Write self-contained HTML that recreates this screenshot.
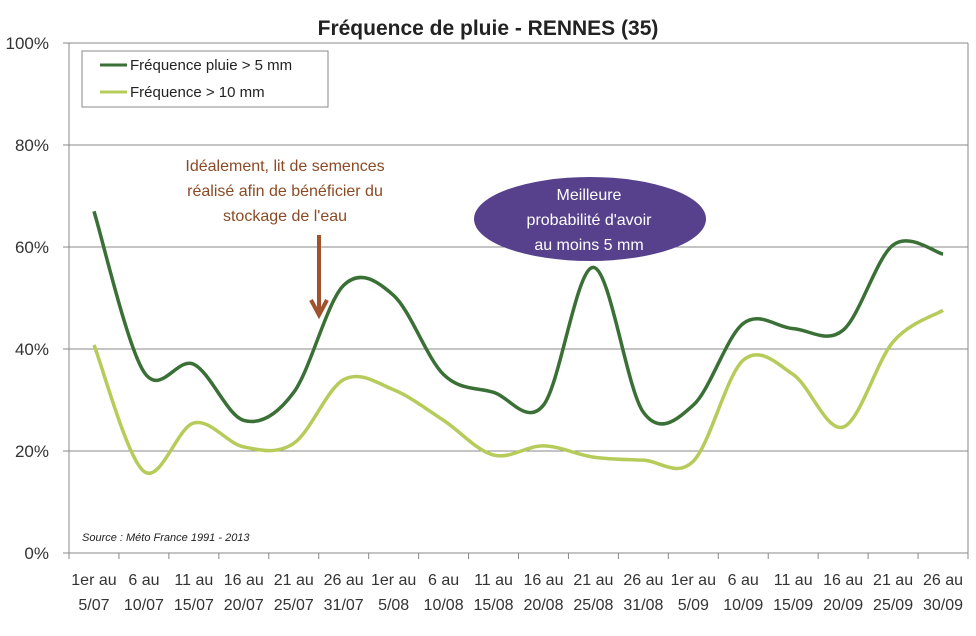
<!DOCTYPE html>
<html><head><meta charset="utf-8"><style>
body{margin:0;background:#fff;}
svg{display:block;font-family:"Liberation Sans",sans-serif;}
</style></head><body>
<svg id="chart" width="976" height="636" viewBox="0 0 976 636">
<rect x="0" y="0" width="976" height="636" fill="#fff"/>
<text x="488" y="35" text-anchor="middle" font-size="21" font-weight="bold" fill="#222">Fréquence de pluie - RENNES (35)</text>
<g id="grid"></g>
<g id="yaxis"></g>
<g id="xaxis"></g>
<g id="series"></g>
<g>
<rect x="82" y="51" width="246" height="56" fill="#fff" stroke="#888" stroke-width="1"/>
<line x1="100" y1="65" x2="127" y2="65" stroke="#3a7036" stroke-width="3"/>
<text x="130" y="70" font-size="15" fill="#222">Fréquence pluie &gt; 5 mm</text>
<line x1="100" y1="92" x2="127" y2="92" stroke="#b5cc5a" stroke-width="3"/>
<text x="130" y="97" font-size="15" fill="#222">Fréquence &gt; 10 mm</text>
</g>
<g fill="#8b4a24" font-size="16" text-anchor="middle">
<text x="285" y="171">Idéalement, lit de semences</text>
<text x="285" y="196">réalisé afin de bénéficier du</text>
<text x="285" y="221">stockage de l'eau</text>
<line x1="319" y1="235" x2="319" y2="312" stroke="#a0522d" stroke-width="4"/>
<path d="M311 300 L319 315 L327 300" fill="none" stroke="#a0522d" stroke-width="4"/>
</g>
<g>
<ellipse cx="590" cy="219" rx="116" ry="42" fill="#57418c"/>
<g fill="#fff" font-size="16" text-anchor="middle">
<text x="589" y="200">Meilleure</text>
<text x="589" y="225">probabilité d'avoir</text>
<text x="589" y="250">au moins 5 mm</text>
</g>
</g>
<text x="82" y="541" font-size="11" font-style="italic" fill="#222">Source : Méto France 1991 - 2013</text>
</svg>
<script>
const categories1 = ["1er au","6 au","11 au","16 au","21 au","26 au","1er au","6 au","11 au","16 au","21 au","26 au","1er au","6 au","11 au","16 au","21 au","26 au"];
const categories2 = ["5/07","10/07","15/07","20/07","25/07","31/07","5/08","10/08","15/08","20/08","25/08","31/08","5/09","10/09","15/09","20/09","25/09","30/09"];
const rain5mm = [67,35.5,37,26,31.5,52.5,50.5,35,31.5,29,56,27.6,29,45,44,43.7,60.4,58.6];
const rain10mm = [40.8,16,25.5,20.8,21.5,34,32,26,19.2,21,18.8,18.2,18,37.8,35,24.7,41.4,47.6];
const yTicks = [0,20,40,60,80,100];
const yTickLabels = ["0%","20%","40%","60%","80%","100%"];

const NS="http://www.w3.org/2000/svg";
const L=69,R=968,T=43,B=553;
const step=(R-L)/categories1.length;
function xPos(i){return L+step*(i+0.5);}
function yPos(v){return B-(v/100)*(B-T);}
function mk(tag,attrs,parent){const e=document.createElementNS(NS,tag);for(const k in attrs)e.setAttribute(k,attrs[k]);parent.appendChild(e);return e;}
const grid=document.getElementById('grid'),ya=document.getElementById('yaxis'),xa=document.getElementById('xaxis'),ser=document.getElementById('series');
yTicks.forEach((v,i)=>{
  const y=yPos(v);
  if(v>0){const g=mk('line',{x1:L,y1:y,x2:R,y2:y,stroke:'#888','stroke-width':1},grid);
  
  }
  const tk=mk('line',{x1:L-6,y1:y,x2:L,y2:y,stroke:'#888'},ya);
  
  
  const t=mk('text',{x:49,y:y+6,'text-anchor':'end','font-size':17,fill:'#333'},ya);
  t.textContent=yTickLabels[i];
  
  
});
const ax=mk('line',{x1:L,y1:T,x2:L,y2:B,stroke:'#888'},ya);


const rb=mk('line',{x1:R,y1:T,x2:R,y2:B,stroke:'#888'},ya);


const xl=mk('line',{x1:L,y1:B,x2:R,y2:B,stroke:'#888'},xa);


for(let i=0;i<=categories1.length;i++){
  const x=L+step*i;
  const tk=mk('line',{x1:x,y1:B,x2:x,y2:B+6,stroke:'#888'},xa);
  
  
}
categories1.forEach((c,i)=>{
  const t=mk('text',{x:xPos(i),y:585,'text-anchor':'middle','font-size':16,fill:'#333'},xa);
  t.textContent=c;
  
  
  const t2=mk('text',{x:xPos(i),y:610,'text-anchor':'middle','font-size':16,fill:'#333'},xa);
  t2.textContent=categories2[i];
  
  
});
function smooth(vals){
  const p=vals.map((v,i)=>[xPos(i),yPos(v)]);
  let d='M'+p[0][0]+' '+p[0][1];
  for(let i=0;i<p.length-1;i++){
    const p0=p[Math.max(0,i-1)],p1=p[i],p2=p[i+1],p3=p[Math.min(p.length-1,i+2)];
    const c1=[p1[0]+(p2[0]-p0[0])/6,p1[1]+(p2[1]-p0[1])/6];
    const c2=[p2[0]-(p3[0]-p1[0])/6,p2[1]-(p3[1]-p1[1])/6];
    d+=' C'+c1[0]+' '+c1[1]+' '+c2[0]+' '+c2[1]+' '+p2[0]+' '+p2[1];
  }
  return d;
}
const s2=mk('path',{d:smooth(rain10mm),fill:'none',stroke:'#b5cc5a','stroke-width':3.5},ser);


const s1=mk('path',{d:smooth(rain5mm),fill:'none',stroke:'#3a7036','stroke-width':3.5},ser);


</script>
</body></html>
